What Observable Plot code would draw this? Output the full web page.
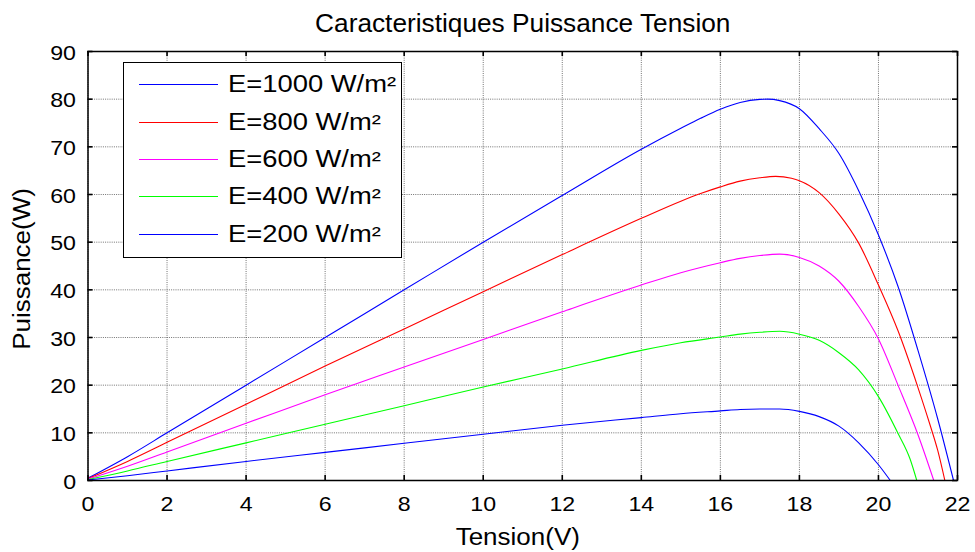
<!DOCTYPE html>
<html>
<head>
<meta charset="utf-8">
<script src="https://cdn.jsdelivr.net/npm/d3@7"></script>
<script src="https://cdn.jsdelivr.net/npm/@observablehq/plot@0.6"></script>
<style>
  html, body { margin: 0; padding: 0; background: #fff; }
  #wrap { position: relative; width: 975px; height: 552px; font-family: "Liberation Sans", Arial, sans-serif; }
  #legend { position: absolute; left: 123px; top: 62px; width: 279px; height: 196px; border: 1px solid #000; background: #fff; box-sizing: border-box; }
  .row { position: absolute; left: 15px; height: 0; }
  .row .sw { position: absolute; left: 0; top: 0; width: 79px; height: 1px; }
  .row .lb { position: absolute; left: 89px; top: -14px; font-size: 23px; line-height: 28px; white-space: nowrap; transform: scaleX(1.19); transform-origin: left center; color: #000; }
</style>
</head>
<body>
<div id="wrap"></div>
<script>
// ---- data ----
const titleText = "Caracteristiques Puissance Tension";
const xLabel = "Tension(V)";
const yLabel = "Puissance(W)";
const xTicks = [0, 2, 4, 6, 8, 10, 12, 14, 16, 18, 20, 22];
const yTicks = [0, 10, 20, 30, 40, 50, 60, 70, 80, 90];

const seriesNames = ["E=1000 W/m²", "E=800 W/m²", "E=600 W/m²", "E=400 W/m²", "E=200 W/m²"];
const seriesColors = ["#0000ff", "#ff0000", "#ff00ff", "#00ff00", "#0000ff"];

const V1000 = [0, 1, 2, 4, 6, 8, 10, 12, 14, 15, 15.5, 16, 16.5, 17, 17.2, 17.5, 18, 18.5, 19, 19.5, 20, 20.5, 21, 21.5, 21.9];
const P1000 = [0.5, 5, 10, 20, 30, 40, 50, 59.8, 69.5, 73.9, 76.0, 77.9, 79.3, 79.95, 80, 79.7, 78, 73.8, 68.6, 60.8, 51.5, 40.6, 27.3, 12.9, 0];

const V800 = [0, 1, 2, 4, 6, 8, 10, 12, 14, 15, 15.5, 16, 16.5, 17, 17.4, 17.8, 18, 18.5, 19, 19.5, 20, 20.5, 21, 21.3, 21.5, 21.68];
const P800 = [0.4, 4, 8, 16, 24, 31.8, 39.6, 47.4, 55, 58.6, 60.2, 61.6, 62.8, 63.5, 63.8, 63.4, 62.9, 60.4, 55.9, 49.8, 41, 31.3, 19.5, 11.8, 6.3, 0];

const V600 = [0, 1, 2, 4, 6, 8, 10, 12, 14, 15, 16, 16.5, 17, 17.5, 18, 18.5, 19, 19.5, 20, 20.5, 21, 21.4];
const P600 = [0.3, 3, 6, 12, 18, 23.8, 29.6, 35.4, 41, 43.6, 45.7, 46.6, 47.2, 47.5, 46.8, 45, 41.8, 36.5, 29.7, 19.9, 9.6, 0];

const V400 = [0, 1, 2, 4, 6, 8, 10, 12, 14, 15, 16, 16.5, 17, 17.5, 18, 18.5, 19, 19.5, 20, 20.5, 20.8, 20.97];
const P400 = [0.2, 2, 4, 7.9, 11.8, 15.7, 19.6, 23.4, 27.3, 28.9, 30.1, 30.7, 31.1, 31.3, 30.7, 29.4, 26.8, 23.2, 17.6, 9.8, 4.5, 0];

const V200 = [0, 1, 2, 4, 6, 8, 10, 12, 14, 15, 16, 16.5, 17, 17.5, 18, 18.5, 19, 19.5, 20, 20.3];
const P200 = [0.1, 1, 2, 4, 5.9, 7.8, 9.7, 11.6, 13.2, 14, 14.6, 14.9, 15, 15, 14.5, 13.4, 11.4, 7.9, 3.3, 0];

const seriesV = [V1000, V800, V600, V400, V200];
const seriesP = [P1000, P800, P600, P400, P200];

const data = [];
seriesNames.forEach((name, i) => {
  seriesV[i].forEach((v, j) => data.push({series: name, V: v, P: seriesP[i][j]}));
});

const W = 975, H = 552;
const mL = 87.5, mR = 18, mT = 51, mB = 72;
const pw = W - mL - mR, ph = H - mT - mB;
const gridStyle = {stroke: "#444", strokeOpacity: 0.75, strokeDasharray: "1,1.2"};

const chart = Plot.plot({
  width: W, height: H,
  marginLeft: mL, marginRight: mR, marginTop: mT, marginBottom: mB,
  style: {fontFamily: "'Liberation Sans', Arial, sans-serif", fontSize: "20.5px", background: "#fff", color: "#000"},
  x: {domain: [0, 22], label: null},
  y: {domain: [0, 90], label: null},
  marks: [
    Plot.gridX(xTicks, gridStyle),
    Plot.gridY(yTicks, gridStyle),
    Plot.line(data, {x: "V", y: "P", z: "series", curve: "monotone-x", stroke: (d) => seriesColors[seriesNames.indexOf(d.series)], strokeWidth: 1.1}),
    Plot.tickX(xTicks, {x: d => d, insetTop: ph - 5, stroke: "#000", strokeWidth: 1.6}),
    Plot.tickX(xTicks, {x: d => d, insetBottom: ph - 5, stroke: "#000", strokeWidth: 1.6}),
    Plot.tickY(yTicks, {y: d => d, insetRight: pw - 5, stroke: "#000", strokeWidth: 1.6}),
    Plot.tickY(yTicks, {y: d => d, insetLeft: pw - 5, stroke: "#000", strokeWidth: 1.6}),
    Plot.frame({stroke: "#000", strokeWidth: 1.5}),
    Plot.axisX(xTicks, {anchor: "bottom", tickSize: 0, tickPadding: 16, label: null, fontSize: 20.5}),
    Plot.axisY(yTicks, {anchor: "left", tickSize: 0, tickPadding: 12, label: null, fontSize: 20.5, dy: 1.5}),
    Plot.text([titleText], {frameAnchor: "top", lineAnchor: "middle", textAnchor: "middle", dy: -28, fontSize: 25, fill: "#000"}),
    Plot.text([xLabel], {frameAnchor: "bottom", lineAnchor: "middle", textAnchor: "middle", dy: 57, dx: -5, fontSize: 23, fill: "#000"}),
    Plot.text([yLabel], {frameAnchor: "left", lineAnchor: "middle", textAnchor: "middle", dx: -65, dy: 3, rotate: -90, fontSize: 23, fill: "#000"})
  ]
});

const wrap = document.getElementById("wrap");
wrap.appendChild(chart);

// horizontal stretch of text to match the reference's wide glyphs
chart.querySelectorAll("text").forEach(t => {
  const len = t.getComputedTextLength();
  if (!len) return;
  const s = t.textContent === titleText ? 1.05 : 1.13;
  t.setAttribute("textLength", len * s);
  t.setAttribute("lengthAdjust", "spacingAndGlyphs");
});

// legend
const legend = document.createElement("div");
legend.id = "legend";
const rowY = [21, 59, 96, 133, 171];
seriesNames.forEach((name, i) => {
  const row = document.createElement("div");
  row.className = "row";
  row.style.top = rowY[i] + "px";
  const sw = document.createElement("div");
  sw.className = "sw";
  sw.style.background = seriesColors[i];
  const lb = document.createElement("div");
  lb.className = "lb";
  lb.textContent = name;
  row.appendChild(sw);
  row.appendChild(lb);
  legend.appendChild(row);
});
wrap.appendChild(legend);
</script>
</body>
</html>
